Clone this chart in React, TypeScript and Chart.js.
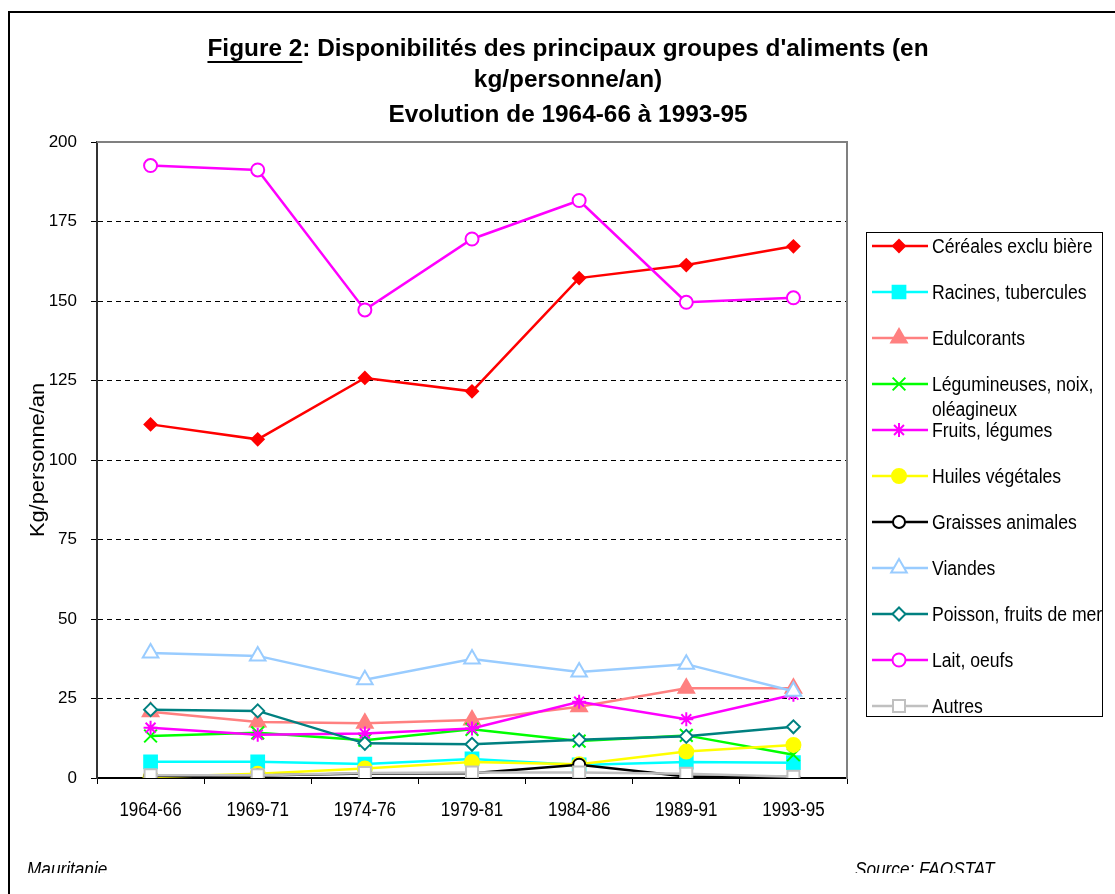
import React, { useEffect, useRef } from 'react';
import { Chart, registerables } from 'chart.js';
import { drawPoint } from 'chart.js/helpers';

Chart.register(...registerables);

const categories = ['1964-66', '1969-71', '1974-76', '1979-81', '1984-86', '1989-91', '1993-95'];
const yTicks = [0, 25, 50, 75, 100, 125, 150, 175, 200];

const cereales = [111.2, 106.5, 125.8, 121.6, 157.2, 161.3, 167.2];
const racines = [5.1, 5.1, 4.4, 6.0, 4.1, 5.0, 4.8];
const edulcorants = [20.8, 17.6, 17.2, 18.2, 22.4, 28.2, 28.2];
const legumineuses = [13.2, 14.2, 11.9, 15.3, 11.6, 13.4, 7.3];
const fruits = [15.8, 13.6, 14.0, 15.6, 24.0, 18.5, 26.2];
const huiles = [0.3, 1.3, 3.0, 5.0, 4.3, 8.3, 10.4];
const graisses = [0.6, 0.8, 1.4, 1.5, 4.2, 0.5, 0.3];
const viandes = [39.3, 38.4, 30.9, 37.4, 33.3, 35.8, 27.3];
const poisson = [21.5, 21.1, 10.9, 10.6, 12.0, 13.1, 16.1];
const lait = [192.6, 191.2, 147.2, 169.5, 181.6, 149.6, 151.0];
const autres = [0.9, 0.9, 1.6, 1.7, 1.7, 1.3, 0.4];

const titleLines = [
  "Figure 2: Disponibilités des principaux groupes d'aliments (en",
  'kg/personne/an)',
  'Evolution de 1964-66 à 1993-95',
];
const yAxisTitle = 'Kg/personne/an';
const footerLeft = 'Mauritanie';
const footerRight = 'Source: FAOSTAT';

const SANS = "'Liberation Sans', Arial, sans-serif";

type S = { label: string; data: number[]; color: string; style: string; fill: string; r: number };
const series: S[] = [
  { label: 'Céréales exclu bière', data: cereales, color: '#FF0000', style: 'rectRot', fill: '#FF0000', r: 6 },
  { label: 'Racines, tubercules', data: racines, color: '#00FFFF', style: 'rect', fill: '#00FFFF', r: 9 },
  { label: 'Edulcorants', data: edulcorants, color: '#FF8080', style: 'triangle', fill: '#FF8080', r: 9 },
  { label: 'Légumineuses, noix,\noléagineux', data: legumineuses, color: '#00FF00', style: 'crossRot', fill: '#00FF00', r: 9 },
  { label: 'Fruits, légumes', data: fruits, color: '#FF00FF', style: 'star', fill: '#FF00FF', r: 7 },
  { label: 'Huiles végétales', data: huiles, color: '#FFFF00', style: 'circle', fill: '#FFFF00', r: 7 },
  { label: 'Graisses animales', data: graisses, color: '#000000', style: 'circle', fill: '#FFFFFF', r: 6 },
  { label: 'Viandes', data: viandes, color: '#99CCFF', style: 'triangle', fill: '#FFFFFF', r: 9 },
  { label: 'Poisson, fruits de mer', data: poisson, color: '#008080', style: 'rectRot', fill: '#FFFFFF', r: 6.5 },
  { label: 'Lait, oeufs', data: lait, color: '#FF00FF', style: 'circle', fill: '#FFFFFF', r: 6.5 },
  { label: 'Autres', data: autres, color: '#C0C0C0', style: 'rect', fill: '#FFFFFF', r: 8.5 },
];

function scaledText(ctx: any, text: string, x: number, y: number, sx: number) {
  ctx.save();
  ctx.translate(x, y);
  ctx.scale(sx, 1);
  ctx.fillText(text, 0, 0);
  ctx.restore();
}

const decorPlugin = {
  id: 'decor',
  beforeDraw(chart: any) {
    const ctx = chart.ctx;
    ctx.save();
    ctx.fillStyle = '#FFFFFF';
    ctx.fillRect(0, 0, chart.width, chart.height);
    // outer frame
    ctx.strokeStyle = '#000000';
    ctx.lineWidth = 2;
    ctx.beginPath();
    ctx.moveTo(9, 900);
    ctx.lineTo(9, 12);
    ctx.lineTo(1120, 12);
    ctx.stroke();
    // title
    ctx.fillStyle = '#000000';
    ctx.textAlign = 'center';
    ctx.textBaseline = 'middle';
    ctx.font = `bold 23px ${SANS}`;
    const sx = 1.06;
    const ys = [50, 81, 116];
    titleLines.forEach((t, i) => scaledText(ctx, t, 568, ys[i], sx));
    // underline "Figure 2"
    const full = ctx.measureText(titleLines[0]).width * sx;
    const part = ctx.measureText('Figure 2').width * sx;
    const x0 = 568 - full / 2;
    ctx.fillRect(x0, 61, part, 2);
    // y axis title
    ctx.save();
    ctx.translate(38, 460);
    ctx.rotate(-Math.PI / 2);
    ctx.scale(1.04, 1);
    ctx.font = `21px ${SANS}`;
    ctx.fillText(yAxisTitle, 0, 0);
    ctx.restore();
    ctx.restore();
  },
  beforeDatasetsDraw(chart: any) {
    const ctx = chart.ctx;
    const a = chart.chartArea;
    ctx.save();
    ctx.strokeStyle = '#808080';
    ctx.lineWidth = 2;
    ctx.beginPath();
    ctx.moveTo(a.left, a.top);
    ctx.lineTo(a.right, a.top);
    ctx.lineTo(a.right, a.bottom + 1);
    ctx.stroke();
    ctx.restore();
  },
  afterDraw(chart: any) {
    const ctx = chart.ctx;
    ctx.save();
    // x category labels (condensed), positioned by the x scale
    const xs = chart.scales.x;
    ctx.fillStyle = '#000000';
    ctx.font = `20px ${SANS}`;
    ctx.textAlign = 'center';
    ctx.textBaseline = 'middle';
    (chart.data.labels as string[]).forEach((lab: string, i: number) => {
      scaledText(ctx, lab, xs.getPixelForTick(i), chart.chartArea.bottom + 32, 0.85);
    });
    // legend
    const bx = 866, by = 232, bw = 236, bh = 484;
    ctx.fillStyle = '#FFFFFF';
    ctx.fillRect(bx, by, bw, bh);
    ctx.strokeStyle = '#000000';
    ctx.lineWidth = 1;
    ctx.strokeRect(bx + 0.5, by + 0.5, bw, bh);
    ctx.save();
    ctx.beginPath();
    ctx.rect(bx + 1, by + 1, bw - 1, bh - 1);
    ctx.clip();
    chart.data.datasets.forEach((ds: any, i: number) => {
      const y = 246 + 46 * i;
      ctx.strokeStyle = ds.borderColor;
      ctx.lineWidth = 2.5;
      ctx.setLineDash([]);
      ctx.beginPath();
      ctx.moveTo(872, y);
      ctx.lineTo(928, y);
      ctx.stroke();
      ctx.fillStyle = ds.pointBackgroundColor;
      ctx.strokeStyle = ds.borderColor;
      ctx.lineWidth = 2;
      drawPoint(ctx, { pointStyle: ds.pointStyle, radius: ds.pointRadius, rotation: 0, borderWidth: 2 }, 899, y);
      ctx.fillStyle = '#000000';
      ctx.font = `20px ${SANS}`;
      ctx.textAlign = 'left';
      ctx.textBaseline = 'middle';
      String(ds.label).split('\n').forEach((ln: string, k: number) => scaledText(ctx, ln, 932, y + 1 + k * 25, 0.88));
    });
    ctx.restore();
    // footer
    ctx.save();
    ctx.beginPath();
    ctx.rect(0, 0, chart.width, 873);
    ctx.clip();
    ctx.fillStyle = '#000000';
    ctx.font = `italic 20px ${SANS}`;
    ctx.textAlign = 'left';
    ctx.textBaseline = 'alphabetic';
    scaledText(ctx, footerLeft, 27, 876, 0.86);
    scaledText(ctx, footerRight, 855, 876, 0.86);
    ctx.restore();
    ctx.restore();
  },
};

export default function App() {
  const ref = useRef<HTMLCanvasElement>(null);
  useEffect(() => {
    if (!ref.current) return;
    const n = series.length;
    const chart = new Chart(ref.current, {
      type: 'line',
      data: {
        labels: categories,
        datasets: series.map((s, i) => ({
          label: s.label,
          data: s.data,
          borderColor: s.color,
          backgroundColor: s.fill,
          pointBackgroundColor: s.fill,
          pointBorderColor: s.color,
          pointStyle: s.style as any,
          pointRadius: s.r,
          pointBorderWidth: 2,
          borderWidth: 2.5,
          tension: 0,
          fill: false,
          order: n - i,
        })),
      },
      options: {
        animation: false,
        responsive: false,
        events: [],
        layout: { padding: { left: 0, right: 268, top: 142, bottom: 76 } },
        plugins: { legend: { display: false }, title: { display: false }, tooltip: { enabled: false } },
        scales: {
          x: {
            offset: true,
            grid: { offset: true, drawOnChartArea: false, drawTicks: true, tickLength: 6, color: '#000000', tickColor: '#000000' },
            border: { display: true, color: '#000000', width: 2 },
            ticks: { display: false },
            afterFit: (s: any) => { s.height = 40; },
          },
          y: {
            min: 0,
            max: 200,
            afterBuildTicks: (s: any) => { s.ticks = yTicks.map((v) => ({ value: v })); },
            grid: {
              color: (c: any) => (c.tick && (c.tick.value === 0 || c.tick.value === 200) ? 'rgba(0,0,0,0)' : '#000000'),
              lineWidth: 1,
              tickColor: '#000000',
              tickLength: 6,
              drawTicks: true,
            },
            border: { display: true, color: '#333333', width: 2, dash: [5, 4] },
            ticks: { color: '#000000', font: { family: SANS, size: 17 }, padding: 14 },
            afterFit: (s: any) => { s.width = 97; },
          },
        },
      },
      plugins: [decorPlugin],
    });
    return () => chart.destroy();
  }, []);
  return (
    <div style={{ position: 'absolute', left: 0, top: 0, width: 1115, height: 894 }}>
      <canvas ref={ref} width={1115} height={894} />
    </div>
  );
}
